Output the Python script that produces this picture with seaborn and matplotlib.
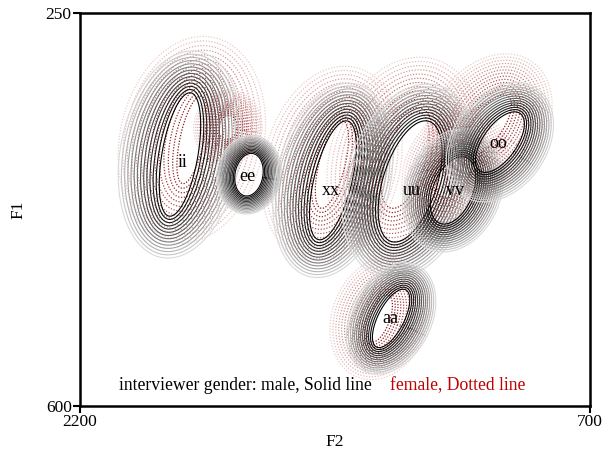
import numpy as np
import pandas as pd
import matplotlib
matplotlib.use("Agg")
import matplotlib.pyplot as plt
import seaborn as sns

# ---- data (Hz) ----
vowels = ["ii", "ee", "xx", "uu", "vv", "oo", "aa"]
label_f2 = [1897, 1709, 1462, 1224, 1097, 971, 1288]
label_f1 = [383, 396, 408, 408, 408, 366, 522]
# male speakers' vowel distributions (solid lines)
male_f2_mean = [1906, 1703, 1456, 1229, 1103, 965, 1285]
male_f1_mean = [376, 394, 399, 400, 408, 365, 522]
male_f2_sd = [61, 42, 69, 94, 67, 72, 55]
male_f1_sd = [55, 19, 53, 54, 30, 27, 26]
male_rho = [0.48, 0.16, 0.56, 0.48, 0.39, 0.60, 0.64]
male_spread = [42, 18, 38, 37, 28, 30, 27]      # contour fan-out (px)
# female (dotted lines)
female_f2_mean = [1871, 1765, 1459, 1244, 1097, 1000, 1318]
female_f1_mean = [363, 352, 385, 381, 390, 350, 522]
female_f2_sd = [44, 27, 49, 71, 55, 69, 37]
female_f1_sd = [39, 11, 39, 43, 25, 27, 21]
female_rho = [0.58, 0.10, 0.60, 0.50, 0.50, 0.67, 0.56]
female_spread = [60, 25, 55, 55, 35, 42, 38]

x_ticks = [2200, 700]
y_ticks = [250, 600]

sns.set_theme(style="ticks")
plt.rcParams["font.family"] = ["Liberation Serif", "DejaVu Serif"]

fig = plt.figure(figsize=(6.02, 4.58), dpi=100)
ax_w_px, ax_h_px = 510, 393
ax = fig.add_axes([80 / 602, 1 - 406 / 458, ax_w_px / 602, ax_h_px / 458])

kx = abs(x_ticks[0] - x_ticks[1]) / ax_w_px   # Hz per pixel (F2)
ky = abs(y_ticks[1] - y_ticks[0]) / ax_h_px   # Hz per pixel (F1)
t = np.linspace(0, 2 * np.pi, 160)
circle = np.vstack([np.cos(t), np.sin(t)])


def draw_family(mx, my, sx, sy, rho, spread, colors, dashed, n):
    Sx, Sy = sx / kx, sy / ky
    cov = np.array([[Sx ** 2, rho * Sx * Sy], [rho * Sx * Sy, Sy ** 2]])
    vals, vecs = np.linalg.eigh(cov)
    axes0 = np.sqrt(vals)
    for k in range(n):
        d = spread * k / (n - 1)
        p = vecs @ np.diag(axes0 + d) @ circle
        xs = mx + p[0] * kx
        ys = my + p[1] * ky
        ls = (0, (1, 1.3)) if dashed else "-"
        sns.lineplot(x=xs, y=ys, sort=False, estimator=None, ax=ax,
                     color=colors[k], lw=0.9 if dashed else 0.8, linestyle=ls)


n_rings = 14
frac = np.linspace(0, 1, n_rings) ** 1.1
male_colors = [(0.85 * f, 0.85 * f, 0.85 * f) for f in frac]
fem_dark = np.array([0.55, 0.08, 0.08])
fem_light = np.array([0.93, 0.80, 0.80])
female_colors = [tuple(fem_dark + (fem_light - fem_dark) * f) for f in frac]

for i in range(len(vowels)):
    draw_family(female_f2_mean[i], female_f1_mean[i], female_f2_sd[i],
                female_f1_sd[i], female_rho[i], female_spread[i],
                female_colors, True, n_rings)
for i in range(len(vowels)):
    draw_family(male_f2_mean[i], male_f1_mean[i], male_f2_sd[i],
                male_f1_sd[i], male_rho[i], male_spread[i],
                male_colors, False, n_rings)

for i, v in enumerate(vowels):
    ax.text(label_f2[i], label_f1[i], v, fontsize=13,
            ha="center", va="center", color="black")

ax.set_xlim(x_ticks[0], x_ticks[1])
ax.set_ylim(y_ticks[1], y_ticks[0])
ax.set_xticks(x_ticks)
ax.set_yticks(y_ticks)
ax.set_xticklabels([str(v) for v in x_ticks], fontsize=12.5)
ax.set_yticklabels([str(v) for v in y_ticks], fontsize=12.5)
ax.tick_params(direction="out", length=5, width=1.5, pad=1, color="black",
               labelcolor="black")
for s in ax.spines.values():
    s.set_visible(True)
    s.set_linewidth(1.8)
    s.set_color("black")
ax.set_xlabel("F2", fontsize=12.5, color="black", labelpad=3)
ax.set_ylabel("F1", fontsize=12.5, color="black", labelpad=14)

ax.text(0.0765, 0.051, "interviewer gender: male, Solid line", transform=ax.transAxes,
        fontsize=12.7, color="black", ha="left", va="center")
ax.text(0.608, 0.051, "female, Dotted line", transform=ax.transAxes,
        fontsize=12.7, color="#c00000", ha="left", va="center")

fig.savefig("out.png", dpi=100)
